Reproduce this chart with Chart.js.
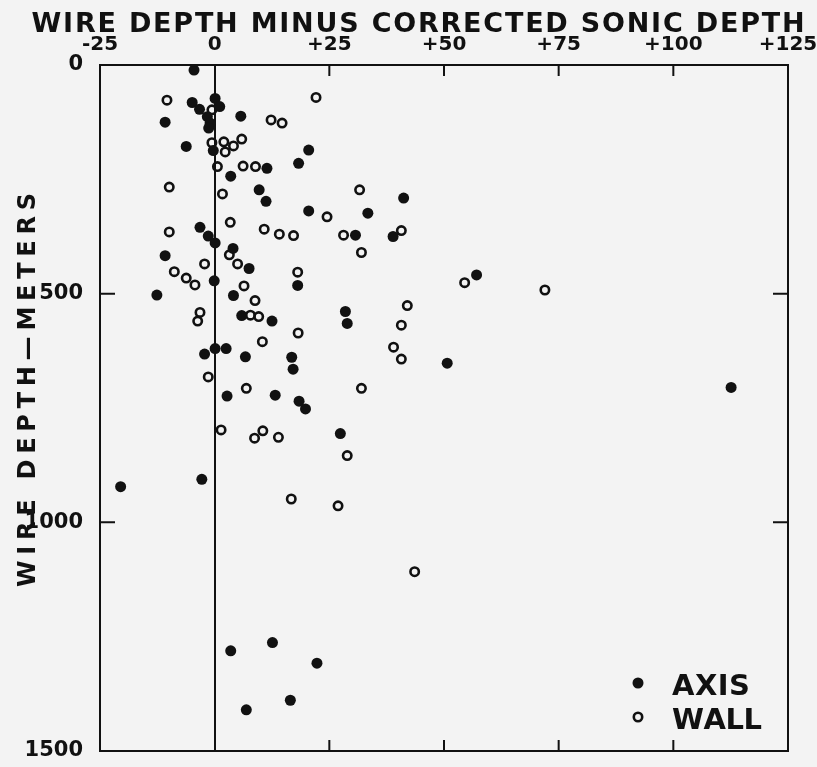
<!DOCTYPE html>
<html>
<head>
<meta charset="utf-8">
<title>Wire depth minus corrected sonic depth</title>
<script src="https://cdn.jsdelivr.net/npm/chart.js@4.4.0/dist/chart.umd.min.js"></script>
<style>
  html, body { margin: 0; padding: 0; background: #f3f3f3; }
  #wrap { width: 817px; height: 767px; position: relative; }
</style>
</head>
<body>
<div id="wrap"><canvas id="chart"></canvas></div>
<script>
// x = wire depth minus corrected sonic depth, y = wire depth (meters)
const axisDiff = [-4.5, 0.1, -4.9, -3.3, 1.1, -1.6, -1.0, -1.3, -10.8, 5.7, -6.2, -0.3, 11.4, 18.3, 20.5,
  3.5, 9.7, 11.2, 20.5, 33.4, 41.2, -3.2, -1.4, 0.1, 4.0, 30.7, 38.9, -10.8, 7.5, -0.1, 18.1, -12.6, 4.1,
  57.1, 5.9, 12.5, 28.5, 28.9, 0.1, 2.5, -2.2, 6.7, 16.8, 17.1, 50.7, 2.7, 13.2, 18.4, 19.8, 27.4, -20.5,
  -2.8, 112.6, 3.5, 12.6, 22.3, 16.5, 6.9];
const axisDepth = [11, 73, 82, 97, 91, 113, 127, 138, 125, 112, 178, 187, 226, 215, 186,
  243, 273, 298, 319, 324, 291, 355, 374, 389, 401, 372, 375, 417, 445, 472, 482, 503, 504,
  459, 548, 560, 539, 565, 620, 620, 632, 638, 639, 665, 652, 724, 722, 735, 752, 806, 922,
  906, 705, 1281, 1263, 1308, 1389, 1410];

const wallDiff = [-10.4, -0.6, 12.3, 14.7, 5.9, -0.6, 2.0, 4.1, 2.3, 0.6, 6.2, 8.9, 22.1, -9.9, 1.7,
  3.4, -9.9, 10.8, 14.1, 17.2, 3.2, 31.6, 24.5, 28.1, 40.7, 32.0, -2.2, 5.0, -8.8, -6.2, -4.3, 6.4,
  18.1, 8.8, -3.2, -3.7, 7.8, 9.6, 18.2, 10.4, -1.4, 6.9, 1.4, 10.5, 8.7, 13.9, 54.5, 42.0, 40.7,
  39.0, 40.7, 32.0, 72.0, 28.9, 16.7, 26.9, 43.6];
const wallDepth = [77, 98, 120, 127, 162, 170, 168, 177, 190, 222, 221, 222, 71, 267, 282,
  344, 365, 359, 370, 373, 415, 273, 332, 372, 362, 410, 435, 435, 452, 466, 481, 483,
  453, 515, 541, 560, 547, 550, 586, 605, 682, 707, 798, 800, 816, 814, 476, 526, 569,
  617, 643, 707, 492, 854, 949, 964, 1108];

const xTickMarks = [25, 50, 75, 100]; // inner ticks on top and bottom
const yTickMarks = [500, 1000];       // inner ticks on left and right

const ink = "#111111";
const fontName = "'DejaVu Sans', 'Liberation Sans', sans-serif";

const toPoints = (xs, ys) => xs.map((x, i) => ({ x: x, y: ys[i] }));

// fixed scale size, and no extra room for labels that hang over the ends
function fixSize(scale, w, h) {
  if (w) scale.width = w;
  if (h) scale.height = h;
  scale.paddingLeft = 0;
  scale.paddingRight = 0;
  scale.paddingTop = 0;
  scale.paddingBottom = 0;
}

// the original lettering is wide, so spread the letters to the measured width
function spacedText(ctx, text, cx, y, width) {
  const chars = text.split("");
  const plain = chars.reduce((s, c) => s + ctx.measureText(c).width, 0);
  const gap = chars.length > 1 ? (width - plain) / (chars.length - 1) : 0;
  let x = cx - width / 2;
  ctx.textAlign = "left";
  chars.forEach((c) => {
    ctx.fillText(c, x, y);
    x += ctx.measureText(c).width + gap;
  });
}

const framePlugin = {
  id: "frame",
  afterDatasetsDraw(chart) {
    const { ctx, chartArea: a, scales } = chart;
    ctx.save();
    ctx.strokeStyle = ink;
    ctx.lineWidth = 2;
    ctx.strokeRect(a.left, a.top, a.right - a.left, a.bottom - a.top);
    ctx.beginPath();
    xTickMarks.forEach((v) => {
      const px = scales.x.getPixelForValue(v);
      ctx.moveTo(px, a.top);
      ctx.lineTo(px, a.top + 11);
      ctx.moveTo(px, a.bottom);
      ctx.lineTo(px, a.bottom - 11);
    });
    yTickMarks.forEach((v) => {
      const py = scales.y.getPixelForValue(v);
      ctx.moveTo(a.left, py);
      ctx.lineTo(a.left + 15, py);
      ctx.moveTo(a.right, py);
      ctx.lineTo(a.right - 15, py);
    });
    ctx.stroke();
    ctx.restore();
  },
};

const textPlugin = {
  id: "texts",
  afterDraw(chart) {
    const { ctx } = chart;
    ctx.save();
    ctx.fillStyle = ink;
    ctx.textBaseline = "alphabetic";

    // main title
    ctx.font = "bold 27px " + fontName;
    spacedText(ctx, "WIRE DEPTH MINUS CORRECTED SONIC DEPTH", 418, 32, 773);

    // y axis title
    ctx.save();
    ctx.translate(35, 390);
    ctx.rotate(-Math.PI / 2);
    ctx.font = "bold 24px " + fontName;
    spacedText(ctx, "WIRE DEPTH\u2014METERS", 0, 0, 394);
    ctx.restore();

    // legend, bottom right inside the frame
    const rows = [
      { ds: chart.data.datasets[0], y: 683, width: 78 },
      { ds: chart.data.datasets[1], y: 717, width: 90 },
    ];
    ctx.font = "bold 29px " + fontName;
    rows.forEach((r) => {
      ctx.beginPath();
      ctx.arc(638, r.y, r.ds.pointRadius, 0, Math.PI * 2);
      ctx.fillStyle = r.ds.pointBackgroundColor;
      ctx.fill();
      if (r.ds.pointBorderWidth) {
        ctx.lineWidth = r.ds.pointBorderWidth;
        ctx.strokeStyle = r.ds.pointBorderColor;
        ctx.stroke();
      }
      ctx.fillStyle = ink;
      spacedText(ctx, r.ds.label, 672 + r.width / 2, r.y + 12, r.width);
    });
    ctx.restore();
  },
};

new Chart(document.getElementById("chart"), {
  type: "scatter",
  data: {
    datasets: [
      {
        label: "AXIS",
        data: toPoints(axisDiff, axisDepth),
        pointRadius: 5.5,
        pointBackgroundColor: ink,
        pointBorderColor: ink,
        pointBorderWidth: 0,
      },
      {
        label: "WALL",
        data: toPoints(wallDiff, wallDepth),
        pointRadius: 4.2,
        pointBackgroundColor: "rgba(0,0,0,0)",
        pointBorderColor: ink,
        pointBorderWidth: 2.6,
      },
    ],
  },
  options: {
    responsive: true,
    maintainAspectRatio: false,
    animation: false,
    layout: {
      autoPadding: false,
      padding: { left: 0, top: 0, right: 29, bottom: 16 },
    },
    scales: {
      x: {
        type: "linear",
        position: "top",
        min: -25,
        max: 125,
        afterFit: (scale) => fixSize(scale, 0, 65),
        ticks: {
          stepSize: 25,
          autoSkip: false,
          maxRotation: 0,
          padding: 8,
          color: ink,
          font: { family: fontName, size: 20, weight: "bold" },
          callback: (v) => (v > 0 ? "+" + v : String(v)),
        },
        grid: {
          drawTicks: false,
          lineWidth: 2,
          color: (c) => (c.tick && c.tick.value === 0 ? ink : "rgba(0,0,0,0)"),
        },
        border: { display: false },
      },
      y: {
        type: "linear",
        reverse: true,
        min: 0,
        max: 1500,
        afterFit: (scale) => fixSize(scale, 100, 0),
        ticks: {
          stepSize: 500,
          autoSkip: false,
          padding: 9,
          color: ink,
          font: { family: fontName, size: 21, weight: "bold" },
          callback: (v) => String(v),
        },
        grid: { display: false },
        border: { display: false },
      },
    },
    plugins: {
      legend: { display: false },
      tooltip: { enabled: false },
    },
  },
  plugins: [framePlugin, textPlugin],
});
</script>
</body>
</html>
